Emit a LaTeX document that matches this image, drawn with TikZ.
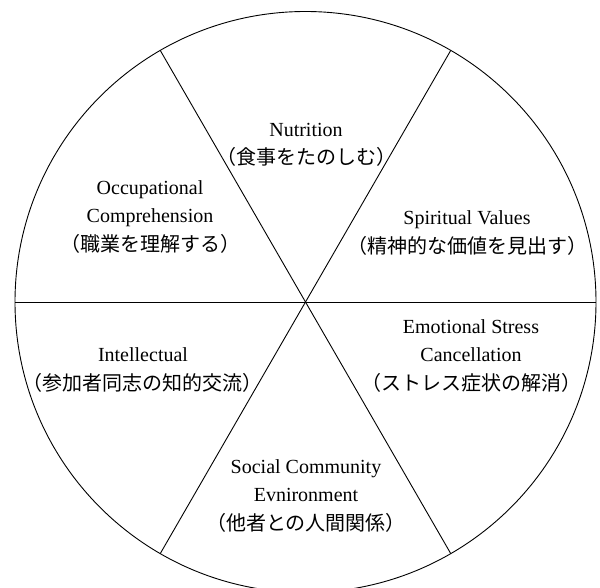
\documentclass[tikz,border=0pt]{standalone}
\usepackage{fontspec}
\setmainfont{Liberation Serif}
\newfontfamily\jp{Noto Sans CJK JP}
\begin{document}
\begin{tikzpicture}[x=1pt,y=-1pt,
  ring/.style={circle,draw,line width=0.9pt,minimum size=581pt,inner sep=0pt,outer sep=0pt},
  spoke/.style={line width=0.9pt},
  label/.style={align=center,inner sep=0pt,font=\fontsize{20}{28.5}\selectfont}]
\useasboundingbox (0,0) rectangle (600,588);
\clip (0,0) rectangle (600,588);
\node[ring] (circ) at (305.5,302) {};
\draw[spoke] (circ.0) -- (circ.180);
\draw[spoke] (circ.60) -- (circ.240);
\draw[spoke] (circ.120) -- (circ.300);
\node[label] (nut) at (306,145) {Nutrition\\{\jp （食事をたのしむ）}};
\node[label] (occ) at (150,217) {Occupational\\Comprehension\\{\jp （職業を理解する）}};
\node[label] (spi) at (467,233) {Spiritual Values\\{\jp （精神的な価値を見出す）}};
\node[label] (emo) at (471,356) {Emotional Stress\\Cancellation\\{\jp （ストレス症状の解消）}};
\node[label] (int) at (143,370) {Intellectual\\{\jp （参加者同志の知的交流）}};
\node[label] (soc) at (306,496) {Social Community\\Evnironment\\{\jp （他者との人間関係）}};
\end{tikzpicture}
\end{document}
